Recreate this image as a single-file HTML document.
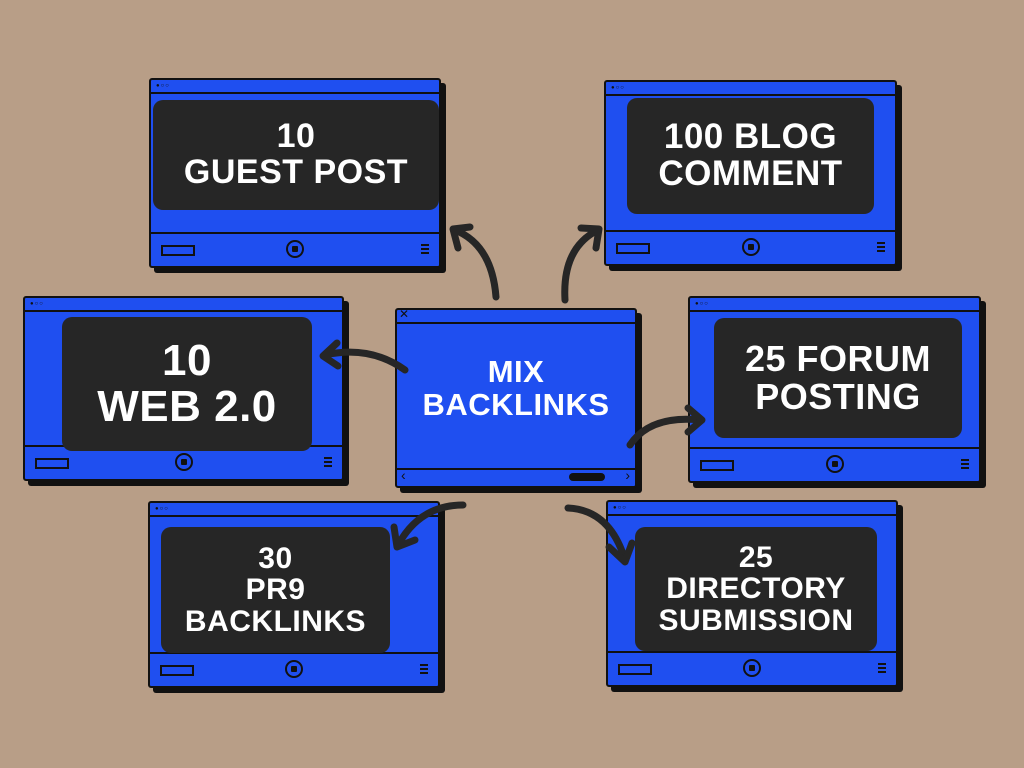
<!DOCTYPE html>
<html><head><meta charset="utf-8"><style>
body{margin:0;width:1024px;height:768px;background:#b89e87;position:relative;overflow:hidden;font-family:"Liberation Sans",sans-serif}
.w{position:absolute;background:#1f4ff0;border:2.5px solid #111;border-radius:3px;box-shadow:5px 5px 0 #111;box-sizing:border-box}
.tb{position:absolute;left:0;right:0;top:0;height:12px;border-bottom:2px solid #111}
.dots{position:absolute;left:5px;top:3px;font-size:6px;color:#111;letter-spacing:1px}
.scr{position:absolute;background:#262626;border-radius:10px;color:#fff;font-weight:bold;display:flex;align-items:center;justify-content:center;text-align:center;line-height:1.05;letter-spacing:0.5px}
.bb{position:absolute;left:0;right:0;bottom:0;height:32px;border-top:2px solid #111}
.rect{position:absolute;left:10px;top:11px;width:30px;height:7px;border:2px solid #111}
.btn{position:absolute;left:50%;top:6px;margin-left:-9px;width:14px;height:14px;border:2px solid #111;border-radius:50%}
.btn:after{content:"";position:absolute;left:4px;top:4px;width:6px;height:6px;background:#111;border-radius:1px}
.ham{position:absolute;right:10px;top:10px;width:8px;height:10px;border-top:2px solid #111;border-bottom:2px solid #111;box-sizing:border-box}
.ham:after{content:"";position:absolute;left:0;right:0;top:2px;border-top:2px solid #111}
</style></head><body>

<div class="w" style="left:149px;top:78px;width:292px;height:190px"><div class="tb"><span class="dots">●○○</span></div><div class="bb"><div class="rect"></div><div class="btn"></div><div class="ham"></div></div>
<div class="scr" style="left:2px;top:20px;width:286px;height:110px;font-size:34px">10<br>GUEST POST</div></div>

<div class="w" style="left:604px;top:80px;width:293px;height:186px"><div class="tb"><span class="dots">●○○</span></div><div class="bb"><div class="rect"></div><div class="btn"></div><div class="ham"></div></div>
<div class="scr" style="left:21px;top:16px;width:247px;height:116px;font-size:35px">100 BLOG<br>COMMENT</div></div>

<div class="w" style="left:23px;top:296px;width:321px;height:185px"><div class="tb"><span class="dots">●○○</span></div><div class="bb"><div class="rect"></div><div class="btn"></div><div class="ham"></div></div>
<div class="scr" style="left:37px;top:19px;width:250px;height:134px;font-size:44px">10<br>WEB 2.0</div></div>

<div class="w" style="left:688px;top:296px;width:293px;height:187px"><div class="tb"><span class="dots">●○○</span></div><div class="bb"><div class="rect"></div><div class="btn"></div><div class="ham"></div></div>
<div class="scr" style="left:24px;top:20px;width:248px;height:120px;font-size:36px">25 FORUM<br>POSTING</div></div>

<div class="w" style="left:148px;top:501px;width:292px;height:187px"><div class="tb"><span class="dots">●○○</span></div><div class="bb"><div class="rect"></div><div class="btn"></div><div class="ham"></div></div>
<div class="scr" style="left:11px;top:24px;width:229px;height:126px;font-size:30px">30<br>PR9<br>BACKLINKS</div></div>

<div class="w" style="left:606px;top:500px;width:292px;height:187px"><div class="tb"><span class="dots">●○○</span></div><div class="bb"><div class="rect"></div><div class="btn"></div><div class="ham"></div></div>
<div class="scr" style="left:27px;top:25px;width:242px;height:124px;font-size:30px">25<br>DIRECTORY<br>SUBMISSION</div></div>

<div class="w" style="left:395px;top:308px;width:242px;height:180px">
<div class="tb"><span style="position:absolute;left:2px;top:-3px;font-size:12px;color:#111">✕</span></div>
<div style="position:absolute;left:0;right:0;top:0;bottom:18px;display:flex;align-items:center;justify-content:center;text-align:center;color:#fff;font-weight:bold;font-size:31px;line-height:1.05;letter-spacing:0.5px">MIX<br>BACKLINKS</div>
<div style="position:absolute;left:0;right:0;bottom:0;height:16px;border-top:2px solid #111">
<span style="position:absolute;left:4px;top:-3px;color:#111;font-size:14px">‹</span>
<span style="position:absolute;left:172px;top:3px;width:36px;height:8px;background:#111;border-radius:5px"></span>
<span style="position:absolute;right:5px;top:-3px;color:#111;font-size:14px">›</span></div></div>

<svg width="1024" height="768" style="position:absolute;left:0;top:0" fill="none" stroke="#262626" stroke-width="7" stroke-linecap="round" stroke-linejoin="round">
<path d="M496 297 Q492 245 455 230"/><path d="M470 227 L453 229 L458 248"/>
<path d="M565 300 Q562 248 598 230"/><path d="M581 228 L599 229 L596 248"/>
<path d="M405 370 Q370 345 325 355"/><path d="M337 343 L323 356 L338 366"/>
<path d="M630 445 Q650 415 700 420"/><path d="M688 408 L702 420 L688 432"/>
<path d="M463 505 Q420 505 398 545"/><path d="M394 527 L397 547 L415 540"/>
<path d="M568 508 Q610 510 625 560"/><path d="M609 547 L625 562 L632 543"/>
</svg>
</body></html>
